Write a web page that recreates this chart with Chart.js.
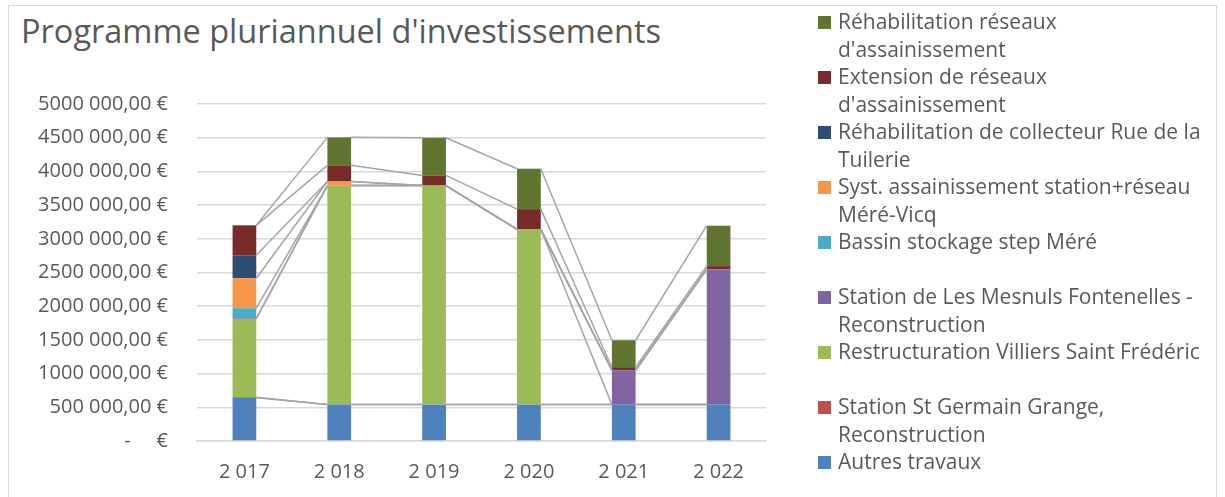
<!DOCTYPE html>
<html lang="fr">
<head>
<meta charset="utf-8">
<title>Programme pluriannuel d'investissements</title>
<script src="https://cdn.jsdelivr.net/npm/chart.js@4"></script>
<style>
  html, body { margin: 0; padding: 0; background: #ffffff; }
  #frame {
    position: relative;
    width: 1225px;
    height: 497px;
    overflow: hidden;
    font-family: "Open Sans", Lato, sans-serif;
    color: #595959;
  }
  #border {
    position: absolute;
    left: 8px; top: 5px; width: 1209px; height: 500px;
    border: 1.5px solid #d9d9d9;
    box-sizing: border-box;
  }
  #title {
    position: absolute;
    left: 21px; top: 8px;
    font-size: 32.5px;
    white-space: nowrap;
  }
  #legend {
    position: absolute;
    left: 818px; top: 8px;
    font-size: 21px;
  }
  .item { height: 55px; position: relative; }
  .swatch { position: absolute; left: 0; top: 8px; width: 13px; height: 13px; }
  .text { position: absolute; left: 20px; top: 0; line-height: 27.5px; white-space: nowrap; }
  canvas { position: absolute; left: 0; top: 0; }
</style>
</head>
<body>
<div id="frame">
  <div id="border"></div>
  <div id="title">Programme pluriannuel d'investissements</div>
  <canvas id="chart" width="1225" height="497"></canvas>
  <div id="legend"></div>
</div>
<script>
// Years on the category axis
const years = ['2 017', '2 018', '2 019', '2 020', '2 021', '2 022'];

// One array per series, bottom of the stack first (values in €)
const autresTravaux       = [640000, 540000, 540000, 540000, 540000, 540000];
const stGermainGrange     = [10000, 0, 0, 0, 0, 0];
const villiersSaintFred   = [1160000, 3250000, 3250000, 2600000, 0, 0];
const mesnulsFontenelles  = [10000, 0, 0, 0, 510000, 2010000];
const bassinMere          = [150000, 0, 0, 0, 0, 0];
const mereVicq            = [445000, 60000, 0, 0, 0, 0];
const collecteurTuilerie  = [340000, 0, 0, 0, 0, 0];
const extensionReseaux    = [445000, 240000, 150000, 300000, 45000, 45000];
const rehabReseaux        = [0, 415000, 560000, 600000, 400000, 600000];

// Legend labels, split on the lines the original wraps at
const labelAutres     = ['Autres travaux'];
const labelStGermain  = ['Station St Germain Grange,', 'Reconstruction'];
const labelVilliers   = ['Restructuration Villiers Saint Frédéric'];
const labelMesnuls    = ['Station de Les Mesnuls Fontenelles -', 'Reconstruction'];
const labelBassin     = ['Bassin stockage step Méré'];
const labelMereVicq   = ['Syst. assainissement station+réseau', 'Méré-Vicq'];
const labelTuilerie   = ['Réhabilitation de collecteur Rue de la', 'Tuilerie'];
const labelExtension  = ['Extension de réseaux', "d'assainissement"];
const labelRehab      = ['Réhabilitation réseaux', "d'assainissement"];

const series = [
  { lines: labelAutres,    data: autresTravaux,      color: '#4f81bd' },
  { lines: labelStGermain, data: stGermainGrange,    color: '#c0504d' },
  { lines: labelVilliers,  data: villiersSaintFred,  color: '#9bbb59' },
  { lines: labelMesnuls,   data: mesnulsFontenelles, color: '#8064a2' },
  { lines: labelBassin,    data: bassinMere,         color: '#4bacc6' },
  { lines: labelMereVicq,  data: mereVicq,           color: '#f79646' },
  { lines: labelTuilerie,  data: collecteurTuilerie, color: '#2c4d75' },
  { lines: labelExtension, data: extensionReseaux,   color: '#772c2a' },
  { lines: labelRehab,     data: rehabReseaux,       color: '#5f7530' }
];

// "5000 000,00 €" style (only the last group gets a separator, as in the source)
const formatEuro = (value) => {
  if (value === 0) return '-     €';
  const thousands = Math.floor(value / 1000);
  const rest = String(value % 1000).padStart(3, '0');
  return `${thousands} ${rest},00 €`;
};

// Excel-like series lines joining each segment top from one bar to the next
const seriesLines = {
  id: 'seriesLines',
  afterDatasetsDraw(chart) {
    const ctx = chart.ctx;
    ctx.save();
    ctx.strokeStyle = '#a5a5a5';
    ctx.lineWidth = 1.5;
    chart.data.datasets.forEach((ds, di) => {
      const bars = chart.getDatasetMeta(di).data;
      for (let i = 0; i < bars.length - 1; i++) {
        const a = bars[i];
        const b = bars[i + 1];
        ctx.beginPath();
        ctx.moveTo(a.x + a.width / 2, a.y);
        ctx.lineTo(b.x - b.width / 2, b.y);
        ctx.stroke();
      }
    });
    ctx.restore();
  }
};

const chart = new Chart(document.getElementById('chart'), {
  type: 'bar',
  data: {
    labels: years,
    datasets: series.map(s => ({
      label: s.lines.join(' '),
      data: s.data,
      backgroundColor: s.color,
      borderWidth: 0,
      barPercentage: 0.5,
      categoryPercentage: 0.5
    }))
  },
  options: {
    responsive: false,
    animation: false,
    layout: { padding: { left: 12, right: 459, top: 104, bottom: 0 } },
    plugins: {
      legend: { display: false },
      tooltip: { enabled: false }
    },
    scales: {
      x: {
        stacked: true,
        grid: { display: false, drawTicks: false },
        border: { color: '#d9d9d9', width: 1.5 },
        ticks: {
          color: '#595959',
          font: { family: '"Open Sans", Lato, sans-serif', size: 20 },
          padding: 19
        },
        afterFit: (scale) => { scale.height = 56; }
      },
      y: {
        stacked: true,
        min: 0,
        max: 5000000,
        grid: { color: '#d9d9d9', lineWidth: 1.5, drawTicks: false },
        border: { display: false },
        ticks: {
          stepSize: 500000,
          color: '#595959',
          font: { family: '"Open Sans", Lato, sans-serif', size: 20 },
          padding: 29,
          callback: (value) => formatEuro(value)
        },
        afterFit: (scale) => { scale.width = 185; }
      }
    }
  },
  plugins: [seriesLines]
});

// Legend on the right, top of the stack first like Excel
const legendEl = document.getElementById('legend');
[...series].reverse().forEach(s => {
  const item = document.createElement('div');
  item.className = 'item';
  const sw = document.createElement('div');
  sw.className = 'swatch';
  sw.style.background = s.color;
  const txt = document.createElement('div');
  txt.className = 'text';
  s.lines.forEach((line, k) => {
    if (k) txt.appendChild(document.createElement('br'));
    txt.appendChild(document.createTextNode(line));
  });
  item.appendChild(sw);
  item.appendChild(txt);
  legendEl.appendChild(item);
});
</script>
</body>
</html>
